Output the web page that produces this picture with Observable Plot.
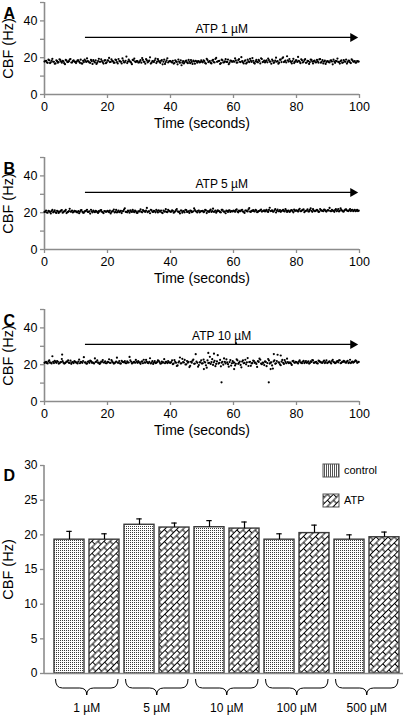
<!DOCTYPE html>
<html><head><meta charset="utf-8">
<script src="https://cdn.jsdelivr.net/npm/d3@7"></script>
<script src="https://cdn.jsdelivr.net/npm/@observablehq/plot@0.6"></script>
<style>
body{margin:0;background:#fff;}
#wrap{position:relative;width:411px;height:715px;overflow:hidden;background:#fff}
.panel{position:absolute;left:0}
</style></head><body><div id="wrap"></div>
<script>
// ---------- data ----------
const sampleStep = 0.5;   // seconds between CBF samples (series 1 at 0, 0.5, ...; series 2 at 0.25, 0.75, ...)
const cbfA = [
17.9,18.3,17.2,18.6,17.5,19.4,17.8,16.9,18.1,17.6,18.8,17.3,18.0,16.5,18.4,17.7,19.0,17.4,18.2,17.9,
17.1,18.5,17.8,18.9,16.8,17.6,18.3,19.6,17.9,17.2,18.1,18.7,17.4,16.6,18.2,17.8,19.1,17.5,18.4,17.0,
18.6,19.9,17.7,18.3,17.2,18.9,17.6,19.3,18.0,16.9,18.4,17.5,20.6,17.9,18.2,17.3,18.8,19.5,17.6,18.1,
17.4,18.7,19.8,17.8,16.7,18.5,17.9,20.2,17.3,18.0,18.6,17.1,19.2,17.7,18.3,16.4,18.9,17.6,19.7,17.9,
18.2,17.4,16.8,18.6,17.7,19.0,17.2,15.9,18.1,17.5,18.4,17.0,17.8,18.7,16.6,17.9,18.3,17.3,18.0,17.6,
17.8,18.5,17.1,19.4,17.6,18.2,16.9,18.8,17.4,19.9,17.9,18.3,17.0,18.6,17.5,19.2,17.7,16.5,18.4,17.8,
18.1,19.6,17.3,18.7,17.8,20.3,17.5,18.2,16.8,18.9,17.6,18.4,19.8,17.2,18.0,17.7,18.8,16.9,19.3,17.9,
17.4,18.6,19.5,17.8,16.7,18.3,17.5,20.0,18.1,17.3,18.9,19.7,17.6,18.4,20.8,17.9,18.2,16.9,19.4,17.7,
18.5,20.4,17.8,19.1,17.4,18.7,17.2,18.3,16.6,19.0,17.9,18.1,17.5,18.8,17.3,19.2,17.8,16.9,18.4,17.6,
18.0,17.4,18.6,16.4,17.9,18.3,19.5,17.6,18.1,17.2,18.7,17.8,16.8,18.4,17.5,19.1,17.9,18.2,17.4,18.0];
const cbfA2 = [
18.2,17.5,18.9,17.1,18.4,17.8,16.7,18.6,17.3,19.1,17.9,18.3,17.0,18.8,17.6,18.1,19.3,17.4,18.5,17.7,
17.9,18.6,17.2,16.9,18.3,19.0,17.7,18.1,17.4,18.8,16.6,17.9,18.5,17.3,19.4,17.8,18.2,16.8,18.7,17.5,
18.4,17.6,19.1,18.0,17.3,18.7,16.9,18.2,17.8,19.6,17.5,18.3,17.1,18.9,17.7,16.5,18.6,17.9,18.1,17.4,
18.0,17.3,18.8,17.7,19.2,17.5,18.4,16.8,18.1,17.6,19.5,17.9,18.3,17.2,18.7,17.8,16.6,18.5,17.4,18.2,
17.6,18.3,17.1,18.0,16.4,17.8,18.5,17.3,16.9,18.2,17.5,18.8,17.0,17.7,18.4,16.7,17.9,18.1,17.4,18.6,
17.5,18.1,16.8,18.7,17.9,17.2,18.4,17.6,19.3,17.8,18.2,16.6,18.9,17.4,18.0,17.7,19.0,17.3,18.3,17.9,
17.8,18.5,17.4,19.2,17.6,18.1,16.9,18.6,17.3,18.0,19.4,17.7,18.3,16.8,18.8,17.5,18.2,19.7,17.6,18.4,
18.1,17.5,18.7,17.9,19.0,17.2,18.4,17.8,16.7,18.9,17.6,20.2,18.0,17.4,18.6,19.3,17.7,18.2,17.1,18.5,
17.7,18.3,17.0,18.6,17.8,19.2,17.4,18.1,17.6,18.8,16.9,18.4,17.5,18.0,19.1,17.3,18.7,17.9,16.6,18.2,
17.6,18.4,17.9,18.9,17.2,18.1,17.7,16.8,18.5,17.4,18.0,19.0,17.6,18.3,17.1,18.6,17.8,17.3,18.2,17.9];
const cbfB = [
20.4,21.2,20.0,20.8,19.6,21.5,20.6,20.2,21.0,19.9,20.7,21.4,20.3,20.9,19.8,20.5,22.1,20.6,20.1,21.0,
20.8,20.2,19.7,21.3,20.5,20.0,20.9,21.6,20.4,19.5,20.7,21.1,20.3,20.8,19.9,20.6,21.4,20.2,20.9,20.5,
21.0,20.3,19.6,20.8,21.7,20.5,20.1,21.2,20.6,19.8,20.9,22.4,20.4,21.1,20.0,20.7,21.5,20.3,20.8,19.9,
20.6,21.8,20.2,21.0,20.5,22.6,20.8,19.7,21.3,20.4,20.9,21.6,20.1,20.7,21.2,19.8,20.6,21.9,20.3,21.0,
20.5,21.3,20.0,20.8,22.0,20.4,19.6,21.1,20.7,20.2,21.4,20.6,19.9,21.0,20.5,22.3,20.8,20.1,21.2,20.6,
20.9,20.3,21.5,19.8,20.7,21.1,20.4,22.2,20.6,20.0,21.3,20.8,20.2,21.6,20.5,19.7,20.9,21.2,20.4,20.8,
21.1,20.5,21.8,20.2,20.9,21.4,20.6,19.9,21.2,20.7,22.5,20.4,21.0,20.8,21.6,20.3,20.9,21.3,20.6,21.0,
20.7,21.5,20.4,22.7,21.0,20.6,21.3,20.1,21.7,20.8,20.5,21.2,20.9,21.9,20.4,21.1,20.7,21.4,20.2,21.0,
21.3,20.6,22.1,20.9,21.5,20.3,21.0,21.8,20.7,22.4,20.5,21.2,20.9,21.6,20.4,22.0,21.1,20.8,21.5,20.6,
21.4,22.6,20.8,21.1,20.5,21.9,21.3,20.7,22.3,21.0,20.6,21.7,21.2,20.9,22.0,21.4,20.8,21.6,21.1,20.9];
const cbfB2 = [
20.6,20.1,21.0,20.4,20.9,20.2,21.3,19.9,20.7,20.5,21.1,20.0,20.8,21.5,20.3,20.9,20.6,21.2,20.4,20.7,
20.3,20.9,20.5,21.4,20.0,20.7,21.1,20.4,20.8,21.6,20.2,20.6,21.0,20.3,20.9,21.3,20.5,19.8,20.8,20.6,
20.7,21.2,20.4,20.9,20.1,21.5,20.6,20.3,21.0,20.8,21.7,20.5,20.2,20.9,21.3,20.4,20.7,21.1,20.0,20.8,
20.9,20.4,21.4,20.7,21.1,20.3,20.8,21.6,20.5,21.0,20.2,20.9,21.3,20.6,20.1,21.2,20.7,20.4,21.5,20.8,
20.6,21.0,20.3,21.4,20.8,20.5,21.2,20.0,20.9,21.6,20.4,20.7,21.1,20.3,20.8,21.4,20.6,21.0,20.2,20.9,
21.0,20.6,21.3,20.8,20.4,21.7,20.9,20.5,21.2,20.7,21.0,20.3,21.5,20.8,20.6,21.1,20.4,21.3,20.9,20.7,
20.9,21.4,20.6,21.1,20.8,21.6,20.5,21.2,20.9,21.8,20.6,21.0,21.4,20.7,21.2,20.5,21.0,21.7,20.8,21.3,
21.1,20.7,21.5,20.9,21.3,20.6,21.9,21.0,20.8,21.4,20.9,21.6,20.7,21.2,21.0,20.5,21.3,20.9,21.7,21.1,
21.0,21.5,20.8,21.3,21.8,20.9,21.2,20.7,21.5,21.0,21.9,20.8,21.3,21.1,20.6,21.4,21.0,21.7,20.9,21.2,
21.2,20.9,21.6,21.0,21.4,20.8,22.0,21.1,21.5,20.7,21.3,21.8,21.0,21.4,20.9,21.6,21.2,20.8,21.5,21.1];
const cbfC = [
21.0,21.6,20.7,22.3,21.2,24.6,20.9,21.5,22.0,20.6,21.3,23.1,21.1,20.8,21.7,22.4,21.0,20.5,21.4,21.9,
21.2,20.7,22.8,21.5,21.0,24.1,21.3,20.6,21.8,22.2,21.1,20.9,23.4,21.6,21.0,20.4,21.7,22.5,21.2,20.8,
21.5,22.9,21.0,21.8,20.6,21.3,23.8,21.1,20.7,22.1,21.4,21.9,20.8,21.2,24.2,21.6,20.9,21.5,22.6,21.0,
21.3,20.5,21.8,22.7,21.1,21.6,20.8,23.5,21.2,20.4,21.9,21.0,22.3,21.4,20.7,21.1,23.0,21.5,20.9,21.3,
21.0,22.4,20.6,21.5,19.3,21.2,23.9,20.8,21.4,22.6,20.2,21.1,18.7,21.6,22.2,20.5,25.7,21.0,19.8,21.3,
20.6,22.8,21.2,18.4,20.9,24.3,21.4,19.9,22.1,20.4,25.2,21.0,19.1,21.6,23.4,20.7,21.3,18.9,22.5,20.8,
21.1,19.6,22.9,20.5,21.7,18.6,22.3,21.0,20.2,23.6,21.4,19.4,20.9,22.0,21.2,18.8,21.5,22.7,20.3,21.0,
21.8,19.2,23.1,20.6,21.3,17.9,22.4,20.8,25.4,21.1,19.7,22.6,20.4,21.5,23.3,20.9,21.2,19.9,22.1,21.0,
21.4,20.7,22.3,21.1,21.6,20.9,22.0,21.3,20.6,21.8,22.5,21.0,21.4,20.8,22.2,21.5,21.1,21.7,20.9,22.4,
21.2,21.8,20.7,22.6,21.3,21.0,21.9,22.4,20.8,21.5,22.1,21.2,21.7,20.9,22.7,21.4,21.1,21.8,22.0,21.3];
const cbfC2 = [
21.3,20.9,21.8,21.1,20.7,21.5,22.1,21.0,21.6,20.8,21.4,21.9,20.6,21.2,21.7,21.0,22.2,21.3,20.9,21.5,
21.1,21.7,20.8,21.4,22.0,21.2,20.6,21.6,21.0,21.9,21.3,20.7,21.5,22.3,21.1,20.9,21.6,21.2,21.8,20.8,
21.4,21.0,22.5,21.2,20.8,21.7,21.1,22.0,20.6,21.5,21.3,20.9,21.8,21.2,22.4,20.7,21.4,21.0,21.6,21.9,
21.1,21.6,20.8,21.3,22.6,21.0,21.5,20.7,21.9,21.2,20.9,21.4,22.1,20.6,21.7,21.3,20.8,21.5,22.0,21.1,
21.4,20.3,22.5,21.0,19.6,21.8,20.7,23.2,21.2,20.1,22.0,21.5,19.4,21.1,22.8,20.6,21.7,18.9,21.3,22.4,
20.8,21.6,19.7,22.3,21.0,20.4,23.0,21.3,19.2,21.8,20.6,22.6,21.1,20.0,21.5,22.9,20.3,21.4,19.5,21.9,
21.2,20.5,22.4,21.0,19.9,21.7,20.8,22.7,21.3,19.3,21.6,20.7,22.2,21.0,20.4,21.9,23.3,20.6,21.2,19.8,
21.5,20.9,22.3,21.1,19.6,21.8,20.5,22.0,21.3,20.2,21.7,21.0,22.5,20.8,21.4,21.1,20.6,21.9,21.2,21.6,
21.0,21.7,21.3,20.8,22.1,21.4,21.0,21.8,20.9,21.5,22.3,21.1,21.6,20.7,21.9,21.3,21.0,22.2,21.4,20.9,
21.6,21.2,22.0,21.4,20.8,21.7,21.3,22.4,21.0,21.5,21.8,21.1,22.1,21.3,20.9,21.7,21.4,22.3,21.0,21.5];
// sparse off-band beats in panel C
const outlierTimesC = [5.6, 50.6, 52.0, 53.8, 56.2, 60.2, 60.8, 71.2, 71.8, 72.8, 75.0];
const outlierValuesC = [25.5, 17.6, 26.4, 26.0, 10.4, 17.6, 31.6, 10.4, 17.6, 25.8, 25.0];

const arrowStart = 13, arrowEnd = 99.5, arrowLevel = 31;
const atpLabels = ["ATP 1 µM", "ATP 5 µM", "ATP 10 µM"];
const panelLetters = ["A", "B", "C", "D"];
const timeTicks = [0, 20, 40, 60, 80, 100];
const cbfTickMarks = [0, 10, 20, 30, 40, 50];
const cbfTickLabels = [0, 20, 40];

const concentrations = ["1 µM", "5 µM", "10 µM", "100 µM", "500 µM"];
const controlMean = [19.3, 21.45, 21.1, 19.3, 19.3];
const controlErrTop = [20.5, 22.3, 22.05, 20.15, 20.0];
const atpMean = [19.3, 21.05, 20.9, 20.25, 19.65];
const atpErrTop = [20.15, 21.7, 21.85, 21.4, 20.4];
const barTicks = [0, 5, 10, 15, 20, 25, 30];
const legendLabels = ["control", "ATP"];

// ---------- drawing ----------
const FONT = '"Liberation Sans", Arial, Helvetica, sans-serif';
const AXIS = "#8c8c8c";
const wrap = document.getElementById("wrap");

function place(node, top) {
  const d = document.createElement("div");
  d.className = "panel";
  d.style.top = top + "px";
  d.appendChild(node);
  wrap.appendChild(d);
}

function scatterPanel(values, values2, extraT, extraV, label, letter, top) {
  const pts = values.map((v, i) => ({t: i * sampleStep, v}));
  values2.forEach((v, i) => pts.push({t: i * sampleStep + sampleStep / 2, v}));
  (extraT || []).forEach((t, i) => pts.push({t, v: extraV[i]}));
  const plot = Plot.plot({
    width: 411, height: 140,
    marginTop: 2, marginLeft: 44, marginRight: 52, marginBottom: 46,
    style: {fontFamily: FONT, fontSize: "12.5px", color: "#000", background: "transparent", overflow: "visible"},
    x: {domain: [0, 100]},
    y: {domain: [0, 50]},
    marks: [
      Plot.axisX({ticks: timeTicks, tickSize: 4, tickPadding: 4, stroke: AXIS, strokeWidth: 1.3, label: null, fontSize: 12.5}),
      Plot.axisY({ticks: cbfTickMarks, tickFormat: d => cbfTickLabels.includes(d) ? String(d) : "", tickSize: 4, tickPadding: 3, stroke: AXIS, strokeWidth: 1.3, label: null, fontSize: 12.5}),
      Plot.ruleX([0], {stroke: AXIS, strokeWidth: 1.6}),
      Plot.ruleY([0], {stroke: AXIS, strokeWidth: 1.6}),
      Plot.dot(pts, {x: "t", y: "v", r: 1.1, fill: "#000", stroke: null}),
      Plot.ruleY([arrowLevel], {x1: arrowStart, x2: arrowEnd, stroke: "#000", strokeWidth: 1.3, insetRight: 6}),
      Plot.dot([arrowEnd], {x: d => d, y: arrowLevel, symbol: "triangle", rotate: 90, r: 3.4, dx: -5, fill: "#000", stroke: null}),
      Plot.text([label], {x: (arrowStart + arrowEnd) / 2, y: arrowLevel, text: d => d, dy: -8, fontSize: 12}),
      Plot.text(["Time (seconds)"], {frameAnchor: "bottom", dy: 33, text: d => d, fontSize: 14}),
      Plot.text(["CBF (Hz)"], {frameAnchor: "left", textAnchor: "middle", dx: -36, rotate: -90, text: d => d, fontSize: 14.5}),
      Plot.text([letter], {frameAnchor: "top-left", dx: -41, dy: 5, textAnchor: "start", text: d => d, fontSize: 16, fontWeight: "bold"})
    ]
  });
  place(plot, top);
}

scatterPanel(cbfA, cbfA2, null, null, atpLabels[0], panelLetters[0], 0);
scatterPanel(cbfB, cbfB2, null, null, atpLabels[1], panelLetters[1], 155);
scatterPanel(cbfC, cbfC2, outlierTimesC, outlierValuesC, atpLabels[2], panelLetters[2], 307);

// ---------- panel D ----------
const bars = concentrations.flatMap((c, i) => [
  {key: c + " control", group: c, cond: "control", mean: controlMean[i], err: controlErrTop[i]},
  {key: c + " ATP", group: c, cond: "ATP", mean: atpMean[i], err: atpErrTop[i]}
]);

const defsMark = () => {
  const defs = d3.create("svg:defs");
  defs.html(`
    <pattern id="stipple" patternUnits="userSpaceOnUse" width="2" height="2">
      <rect width="2" height="2" fill="#fff"/>
      <rect x="0" y="0" width="1" height="1" fill="#3a3a3a"/>
    </pattern>
    <pattern id="vstripe" patternUnits="userSpaceOnUse" width="2" height="2">
      <rect width="2" height="2" fill="#fff"/>
      <rect x="0" y="0" width="1" height="2" fill="#555"/>
    </pattern>
    <pattern id="brick" patternUnits="userSpaceOnUse" width="8.5" height="8.6" patternTransform="rotate(-45)">
      <rect width="8.5" height="8.6" fill="#fff"/>
      <path d="M0,0.5H8.5M0,4.8H8.5M0.5,0.5V4.8M4.75,4.8V9.1" stroke="#000" stroke-width="1" fill="none"/>
    </pattern>`);
  return defs.node();
};

const extrasMark = (index, scales, values, dims) => {
  const {x, y} = scales;
  const g = d3.create("svg:g").attr("font-family", FONT).attr("text-anchor", "start");
  // y axis line
  g.append("line").attr("x1", dims.marginLeft).attr("x2", dims.marginLeft)
    .attr("y1", y(0)).attr("y2", y(30)).attr("stroke", AXIS).attr("stroke-width", 1.6);
  // braces + concentration labels
  const bw = x.bandwidth();
  const y0 = y(0) + 6, yf = y(0) + 15, tip = y(0) + 22, r = 7;
  concentrations.forEach(c => {
    const xa = x(c + " control") + 1.5, xb = x(c + " ATP") + bw - 1, xc = (xa + xb) / 2;
    g.append("path")
      .attr("d", `M${xa},${y0}Q${xa},${yf} ${xa + r},${yf}L${xc - r},${yf}Q${xc},${yf} ${xc},${tip}Q${xc},${yf} ${xc + r},${yf}L${xb - r},${yf}Q${xb},${yf} ${xb},${y0}`)
      .attr("fill", "none").attr("stroke", "#000").attr("stroke-width", 1);
    g.append("text").attr("x", xc).attr("y", y(0) + 35).attr("dy", "0.35em")
      .attr("text-anchor", "middle").attr("font-size", 12).attr("fill", "#000").text(c);
  });
  // legend
  const lx = 323, ly = [14, 44], fills = ["url(#vstripe)", "url(#brick)"];
  legendLabels.forEach((lab, i) => {
    g.append("rect").attr("x", lx).attr("y", ly[i]).attr("width", 16).attr("height", 13)
      .attr("fill", fills[i]).attr("stroke", "#555").attr("stroke-width", 1);
    g.append("text").attr("x", lx + 21).attr("y", ly[i] + 6.5).attr("dy", "0.35em")
      .attr("text-anchor", "start").attr("font-size", 11).attr("fill", "#000").text(lab);
  });
  return g.node();
};

const plotD = Plot.plot({
  width: 411, height: 265,
  marginTop: 15, marginLeft: 44, marginRight: 8, marginBottom: 42,
  style: {fontFamily: FONT, fontSize: "12px", color: "#000", background: "transparent", overflow: "visible"},
  x: {domain: bars.map(d => d.key), range: [50.7, 401.6], paddingInner: 0.14, paddingOuter: 0, axis: null},
  y: {domain: [0, 30]},
  marks: [
    defsMark,
    Plot.axisY({ticks: barTicks, tickSize: 4, tickPadding: 3, stroke: AXIS, strokeWidth: 1.3, label: null, fontSize: 12}),
    Plot.barY(bars.filter(d => d.cond === "control"), {x: "key", y: "mean", fill: "url(#stipple)", stroke: "#3a3a3a", strokeWidth: 1.4}),
    Plot.barY(bars.filter(d => d.cond === "ATP"), {x: "key", y: "mean", fill: "url(#brick)", stroke: "#3a3a3a", strokeWidth: 1.4}),
    Plot.ruleX(bars, {x: "key", y1: "mean", y2: "err", stroke: "#000", strokeWidth: 1.2}),
    Plot.tickY(bars, {x: "key", y: "err", stroke: "#000", strokeWidth: 1.2, insetLeft: 12.3, insetRight: 12.3}),
    Plot.ruleY([0], {stroke: AXIS, strokeWidth: 1.6}),
    extrasMark,
    Plot.text(["CBF (Hz)"], {frameAnchor: "left", textAnchor: "middle", dx: -36, rotate: -90, text: d => d, fontSize: 14.5}),
    Plot.text([panelLetters[3]], {frameAnchor: "top-left", dx: -41, dy: 4, textAnchor: "start", text: d => d, fontSize: 16, fontWeight: "bold"})
  ]
});
place(plotD, 450);
</script></body></html>
